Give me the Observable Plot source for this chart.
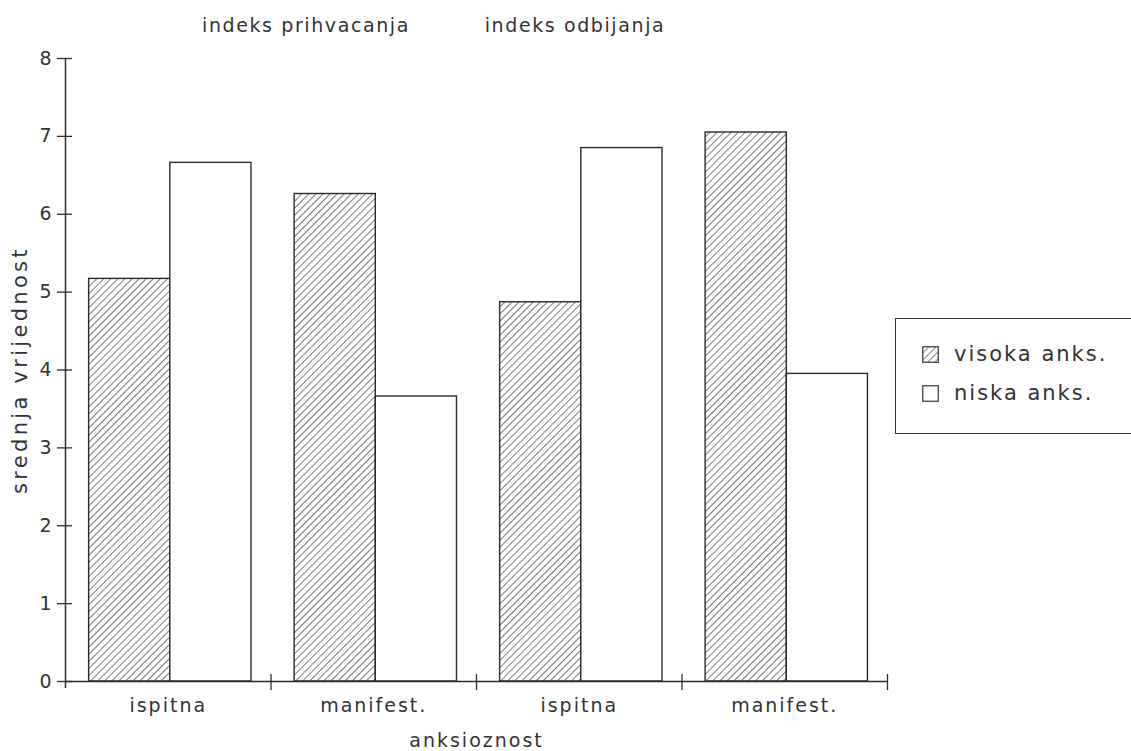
<!DOCTYPE html>
<html>
<head>
<meta charset="utf-8">
<script src="https://cdn.jsdelivr.net/npm/d3@7"></script>
<script src="https://cdn.jsdelivr.net/npm/@observablehq/plot@0.6"></script>
<style>
  html, body { margin: 0; padding: 0; background: #fff; overflow: hidden; }
  #wrap { position: relative; width: 1131px; height: 751px; font-family: "DejaVu Sans", sans-serif; color: #333; }
  #wrap svg text { letter-spacing: 2px; }
  .title { position: absolute; top: 14px; font-size: 19px; letter-spacing: 1.6px; white-space: nowrap; transform: translateX(-50%); }
  #legend { position: absolute; left: 895px; top: 318px; width: 260px; height: 116px; border: 1.5px solid #333; box-sizing: border-box; }
  .item { position: absolute; left: 26px; display: flex; align-items: center; font-size: 21px; letter-spacing: 2px; white-space: nowrap; }
  .item svg { margin-right: 15px; }
</style>
</head>
<body>
<div id="wrap"></div>
<script>
// ---- data ----
const groupLabels = ["ispitna", "manifest.", "ispitna", "manifest."];
const indexTitles = ["indeks prihvacanja", "indeks odbijanja"];
const seriesNames = ["visoka anks.", "niska anks."];
const visoka = [5.17, 6.26, 4.87, 7.05];
const niska = [6.66, 3.66, 6.85, 3.95];
const yTicks = [0, 1, 2, 3, 4, 5, 6, 7, 8];
const xTitle = "anksioznost";
const yTitle = "srednja vrijednost";

const boundaries = d3.range(1, groupLabels.length + 1);
const hatchData = visoka.map((v, i) => ({i, value: v}));
const plainData = niska.map((v, i) => ({i, value: v}));

const ink = "#2a2a2a";

const chart = Plot.plot({
  width: 1131,
  height: 751,
  marginLeft: 65,
  marginRight: 244,
  marginTop: 58,
  marginBottom: 70,
  style: {fontFamily: "DejaVu Sans, sans-serif", color: "#333", background: "transparent"},
  x: {type: "linear", domain: [0, groupLabels.length], axis: null},
  y: {domain: [0, 8], axis: null},
  marks: [
    Plot.rectY(hatchData, {x1: d => d.i + 0.115, x2: d => d.i + 0.51, y: "value", fill: "url(#hatch)", stroke: ink, strokeWidth: 1.4}),
    Plot.rectY(plainData, {x1: d => d.i + 0.51, x2: d => d.i + 0.905, y: "value", fill: "white", stroke: ink, strokeWidth: 1.4}),
    Plot.ruleY([0], {x1: 0, x2: groupLabels.length, stroke: ink, strokeWidth: 1.5}),
    Plot.ruleX([0], {y1: 8, y2: 0, insetBottom: -7, stroke: ink, strokeWidth: 1.5}),
    Plot.ruleY(yTicks, {y: d => d, x1: 0, x2: 0, insetLeft: -8, insetRight: -7, stroke: ink, strokeWidth: 1.3}),
    Plot.ruleX(boundaries, {x: d => d, y1: 0, y2: 0, insetTop: -7, insetBottom: -9, stroke: ink, strokeWidth: 1.3}),
    Plot.axisY({ticks: yTicks, tickSize: 0, tickPadding: 12, fontSize: 19, label: null, tickFormat: d => d}),
    Plot.text(groupLabels, {x: (d, i) => i + 0.5, y: 0, dy: 24, fontSize: 19, fill: "#333"}),
    Plot.text([xTitle], {x: groupLabels.length / 2, y: 0, dy: 59, fontSize: 19, fill: "#333"}),
    Plot.text([yTitle], {frameAnchor: "left", textAnchor: "middle", rotate: -90, dx: -45, fontSize: 21, fill: "#333"})
  ]
});

const svg = d3.select(chart);
const defs = svg.insert("defs", ":first-child");
const pat = defs.append("pattern")
  .attr("id", "hatch")
  .attr("patternUnits", "userSpaceOnUse")
  .attr("width", 5).attr("height", 5)
  .attr("patternTransform", "rotate(45)");
pat.append("rect").attr("width", 5).attr("height", 5).attr("fill", "white");
pat.append("line").attr("x1", 0).attr("y1", 0).attr("x2", 0).attr("y2", 5)
  .attr("stroke", "#222").attr("stroke-width", 1.2);

// wider tracking on the rotated y title, as in the original
svg.selectAll("text").filter(function() { return this.textContent === yTitle; })
  .style("letter-spacing", "3.3px");

const wrap = document.getElementById("wrap");
wrap.appendChild(chart);

// titles above the two pairs of groups
const titleCenters = [306, 575];
indexTitles.forEach((t, k) => {
  const div = document.createElement("div");
  div.className = "title";
  div.textContent = t;
  div.style.left = titleCenters[k] + "px";
  wrap.appendChild(div);
});

// legend
const legend = document.createElement("div");
legend.id = "legend";
wrap.appendChild(legend);
const fills = ["url(#hatchL)", "white"];
const tops = [23, 62];
seriesNames.forEach((name, k) => {
  const item = document.createElement("div");
  item.className = "item";
  item.style.top = tops[k] + "px";
  item.innerHTML = `<svg width="17" height="17">${k === 0 ? `<defs><pattern id="hatchL" patternUnits="userSpaceOnUse" width="5" height="5" patternTransform="rotate(45)"><rect width="5" height="5" fill="white"/><line x1="0" y1="0" x2="0" y2="5" stroke="#222" stroke-width="1"/></pattern></defs>` : ""}<rect x="0.75" y="0.75" width="15.5" height="15.5" fill="${fills[k]}" stroke="#333" stroke-width="1.2"/></svg><span>${name}</span>`;
  legend.appendChild(item);
});
</script>
</body>
</html>
